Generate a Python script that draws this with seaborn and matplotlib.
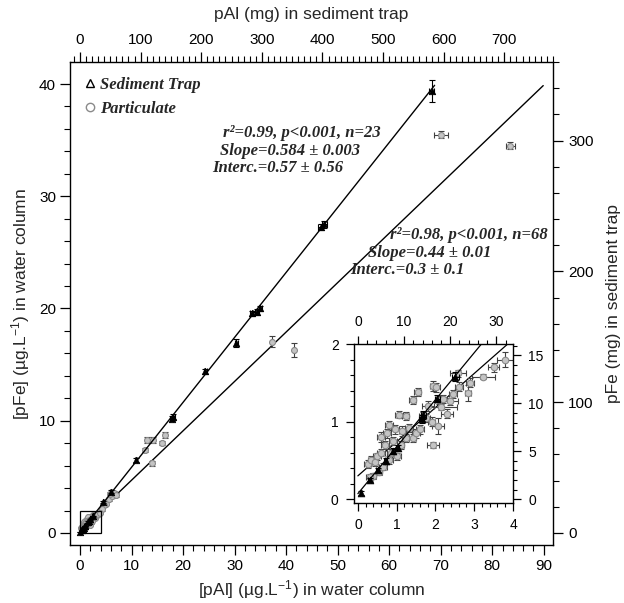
import numpy as np
import pandas as pd
import matplotlib
matplotlib.use("Agg")
import matplotlib.pyplot as plt
import seaborn as sns
from matplotlib.lines import Line2D
from matplotlib.patches import Rectangle
from matplotlib.ticker import MultipleLocator

# particulate samples, water column (ug/L)
part_al = [83.5, 70.1, 37.2, 41.6,
           12.95, 14.2, 15.9, 16.5, 12.6, 13.9,
           5.0, 5.6, 6.2, 6.6, 5.8, 4.6, 7.0,
           3.23, 2.58, 2.84, 2.45, 2.10, 2.20, 2.37, 2.15, 1.93, 2.02,
           2.06, 1.93, 1.67, 1.75, 1.41, 1.54, 1.23, 1.06, 1.32, 1.23, 1.41,
           0.25, 0.35, 0.45, 0.50, 0.60, 0.60, 0.70, 0.75, 0.80, 0.85,
           0.90, 0.95, 1.00, 0.55, 0.40, 0.65, 0.80, 1.10, 1.15, 0.30,
           1.50, 1.60, 1.80, 2.30, 1.90, 2.60, 2.90, 3.50, 4.2, 3.8]
part_fe = [34.5, 35.5, 17.05, 16.3,
           8.29, 8.29, 8.0, 8.73, 7.4, 6.2,
           2.6, 3.0, 3.3, 3.6, 3.5, 2.5, 3.4,
           1.58, 1.62, 1.37, 1.36, 1.28, 1.29, 1.26, 1.19, 1.46, 1.44,
           0.94, 0.70, 1.07, 1.05, 1.28, 1.38, 1.07, 1.09, 0.92, 0.79, 0.79,
           0.45, 0.50, 0.48, 0.55, 0.60, 0.80, 0.70, 0.85, 0.95, 0.60,
           0.75, 0.90, 0.55, 0.35, 0.30, 0.42, 0.50, 0.70, 0.88, 0.28,
           0.85, 0.90, 1.20, 1.10, 1.00, 1.45, 1.50, 1.70, 2.1, 1.8]
part_al_err = [0.9, 1.3, 0.2, 0.2,
               0.3, 0.3, 0.2, 0.2, 0.2, 0.3,
               0.2, 0.2, 0.2, 0.2, 0.2, 0.2, 0.2,
               0.30, 0.20, 0.08, 0.10, 0.10, 0.10, 0.20, 0.40, 0.08, 0.10,
               0.15, 0.15, 0.10, 0.10, 0.10, 0.10, 0.08, 0.10, 0.10, 0.10, 0.10,
               0.08, 0.08, 0.08, 0.10, 0.10, 0.10, 0.10, 0.10, 0.10, 0.10,
               0.10, 0.10, 0.12, 0.08, 0.08, 0.10, 0.10, 0.10, 0.10, 0.08,
               0.10, 0.10, 0.15, 0.15, 0.10, 0.10, 0.10, 0.15, 0.2, 0.2]
part_fe_err = [0.3, 0.3, 0.5, 0.65,
               0.3, 0.3, 0.2, 0.3, 0.2, 0.2,
               0.15, 0.15, 0.15, 0.15, 0.15, 0.15, 0.15,
               0.03, 0.05, 0.10, 0.05, 0.05, 0.05, 0.05, 0.04, 0.06, 0.06,
               0.10, 0.04, 0.05, 0.05, 0.05, 0.05, 0.05, 0.05, 0.05, 0.05, 0.05,
               0.05, 0.05, 0.05, 0.05, 0.05, 0.06, 0.05, 0.06, 0.06, 0.05,
               0.05, 0.06, 0.05, 0.04, 0.04, 0.05, 0.05, 0.05, 0.06, 0.04,
               0.06, 0.06, 0.06, 0.06, 0.06, 0.06, 0.06, 0.06, 0.1, 0.1]

# sediment trap samples (mg)
trap_al = [0.7, 2.6, 4.3, 6.0, 7.7, 8.6, 13.8, 14.2, 17.2, 21.1,
           38.3, 51.0, 92.6, 151.0, 154.0, 207.0, 258.0, 283.0, 291.5, 297.5,
           397.0, 403.0, 580.0]
trap_fe = [0.6, 2.0, 3.0, 4.0, 5.0, 5.3, 8.4, 8.8, 10.5, 12.8,
           24.0, 31.7, 55.8, 87.5, 89.0, 123.5, 145.0, 168.0, 169.0, 171.6,
           234.0, 236.0, 338.0]
trap_al_err = [0.3, 0.3, 0.3, 0.4, 0.4, 0.4, 0.5, 0.5, 0.5, 0.8,
               1.0, 1.5, 2.0, 2.5, 2.5, 2.5, 3.0, 3.0, 3.0, 3.0,
               4.0, 4.0, 4.0]
trap_fe_err = [0.2, 0.2, 0.2, 0.3, 0.3, 0.3, 0.4, 0.4, 0.4, 0.5,
               0.8, 1.0, 1.5, 2.0, 2.0, 2.0, 3.0, 2.0, 2.0, 2.0,
               2.5, 2.5, 8.5]

# regressions as printed on the figure
trap_fit = (0.584, 0.57)
part_fit = (0.44, 0.3)

part = pd.DataFrame({"al": part_al, "fe": part_fe, "al_err": part_al_err, "fe_err": part_fe_err})
trap = pd.DataFrame({"al": trap_al, "fe": trap_fe, "al_err": trap_al_err, "fe_err": trap_fe_err})

sns.set_theme(style="ticks")
plt.rcParams["font.family"] = ["Liberation Sans", "DejaVu Sans"]
plt.rcParams["mathtext.fontset"] = "custom"
plt.rcParams["mathtext.rm"] = "Liberation Sans"
plt.rcParams["mathtext.it"] = "Liberation Sans:italic"

W, H = 624, 603
fig = plt.figure(figsize=(W / 100, H / 100), dpi=100)


def frac(x0, y0, x1, y1):
    return [x0 / W, 1 - y1 / H, (x1 - x0) / W, (y1 - y0) / H]


PART_FACE = "#c4c4c4"
PART_EDGE = "#8a8a8a"
ERR_GREY = "#404040"


def style_axis(a, major, minor, fs, xminor, yminor, pad=3):
    a.xaxis.set_minor_locator(MultipleLocator(xminor))
    a.yaxis.set_minor_locator(MultipleLocator(yminor))
    a.tick_params(which="major", direction="out", length=major, width=0.9,
                  labelsize=fs, color="black", labelcolor="black", pad=pad)
    a.tick_params(which="minor", direction="out", length=minor, width=0.8, color="black")


def draw_particulate(a, ms, cap):
    a.errorbar(part["al"], part["fe"], xerr=part["al_err"], yerr=part["fe_err"],
               fmt="none", ecolor=ERR_GREY, elinewidth=0.8, capsize=cap, capthick=0.8, zorder=2)
    sns.scatterplot(data=part, x="al", y="fe", ax=a, s=ms, marker="o",
                    color=PART_FACE, edgecolor=PART_EDGE, linewidth=0.8, zorder=3, legend=False)


def draw_trap(a, ms, cap):
    a.errorbar(trap["al"], trap["fe"], xerr=trap["al_err"], yerr=trap["fe_err"],
               fmt="none", ecolor="black", elinewidth=0.8, capsize=cap, capthick=0.8, zorder=4)
    sns.scatterplot(data=trap, x="al", y="fe", ax=a, s=ms, marker="^",
                    color="black", edgecolor="black", linewidth=0.5, zorder=5, legend=False)


# ---------------- main panel ----------------
main_rect = frac(70, 62, 553, 545)
ax = fig.add_axes(main_rect)
ax_mg = fig.add_axes(main_rect, frameon=False)
ax_mg.patch.set_alpha(0)

xlim = (-1.94, 91.8)
ylim = (-1.07, 41.96)
fx, fy = 8.5, 8.58
ax.set_xlim(*xlim)
ax.set_ylim(*ylim)
ax_mg.set_xlim(xlim[0] * fx, xlim[1] * fx)
ax_mg.set_ylim(ylim[0] * fy, ylim[1] * fy)

draw_particulate(ax, 18, 2)
xl = np.array([0, 89.9])
ax.plot(xl, part_fit[0] * xl + part_fit[1], color="black", lw=1.0, zorder=1)

draw_trap(ax_mg, 22, 2)
xm = np.array([0, 585])
ax_mg.plot(xm, trap_fit[0] * xm + trap_fit[1], color="black", lw=1.0, zorder=1)

ax.add_patch(Rectangle((0, 0), 4, 2, fill=False, edgecolor="black", lw=0.9, zorder=6))

ax_mg.xaxis.tick_top()
ax_mg.yaxis.tick_right()
ax_mg.xaxis.set_label_position("top")
ax_mg.yaxis.set_label_position("right")
style_axis(ax, 7, 4, 11, 2, 2)
style_axis(ax_mg, 7, 4, 11, 10, 20, pad=4)
ax.set_xticks(list(range(0, 100, 10)))
ax.set_yticks(list(range(0, 50, 10)))
ax_mg.set_xticks(list(range(0, 800, 100)))
ax_mg.set_yticks([0, 100, 200, 300])

for s in ax.spines.values():
    s.set_visible(True)
    s.set_linewidth(1.0)
    s.set_color("black")

ax.set_xlabel("[pAl] (µg.L$^{-1}$) in water column", fontsize=12.5, labelpad=4)
ax.set_ylabel("[pFe] (µg.L$^{-1}$) in water column", fontsize=12.5, labelpad=5)
ax_mg.set_xlabel("pAl (mg) in sediment trap", fontsize=12.5, labelpad=10)
ax_mg.set_ylabel("pFe (mg) in sediment trap", fontsize=12.5, labelpad=9)

# legend
handles = [Line2D([], [], marker="^", ls="none", mfc="none", mec="black", ms=6, mew=1.0),
           Line2D([], [], marker="o", ls="none", mfc="none", mec=PART_EDGE, ms=6, mew=1.0)]
ax.legend(handles, ["Sediment Trap", "Particulate"], loc="upper left",
          bbox_to_anchor=(-0.005, 1.0), frameon=False, handletextpad=0.15,
          labelspacing=0.5, handlelength=0.9,
          prop={"family": "Liberation Serif", "style": "italic", "weight": "bold", "size": 12})

ann = {"family": "Liberation Serif", "style": "italic", "weight": "bold", "size": 12, "va": "center"}
ax.text(27.8, 35.65, "r²=0.99, p<0.001, n=23", **ann)
ax.text(27.2, 34.05, "Slope=0.584 ± 0.003", **ann)
ax.text(25.6, 32.5, "Interc.=0.57 ± 0.56", **ann)
ax.text(60.2, 26.56, "r²=0.98, p<0.001, n=68", **ann)
ax.text(55.9, 24.96, "Slope=0.44 ± 0.01", **ann)
ax.text(52.4, 23.44, "Interc.=0.3 ± 0.1", **ann)

# ---------------- inset ----------------
in_rect = frac(354, 344, 513, 503)
axi = fig.add_axes(in_rect)
axi_mg = fig.add_axes(in_rect, frameon=False)
axi_mg.patch.set_alpha(0)

ixlim = (-0.1, 4.0)
iylim = (-0.05, 2.0)
ifx, ify = 8.4, 8.1
axi.set_xlim(*ixlim)
axi.set_ylim(*iylim)
axi_mg.set_xlim(ixlim[0] * ifx, ixlim[1] * ifx)
axi_mg.set_ylim(iylim[0] * ify, iylim[1] * ify)

draw_particulate(axi, 22, 2.5)
xi = np.array([0, 4.0])
axi.plot(xi, part_fit[0] * xi + part_fit[1], color="black", lw=0.9, zorder=1)
draw_trap(axi_mg, 24, 2.5)
xim = np.array([0, 35])
axi_mg.plot(xim, trap_fit[0] * xim + trap_fit[1], color="black", lw=0.9, zorder=1)

axi_mg.xaxis.tick_top()
axi_mg.yaxis.tick_right()
style_axis(axi, 6, 3, 10, 0.2, 0.2, pad=5)
style_axis(axi_mg, 6, 3, 10, 2, 1, pad=5)
axi.set_xticks([0, 1, 2, 3, 4])
axi.set_yticks([0, 1, 2])
axi_mg.set_xticks([0, 10, 20, 30])
axi_mg.set_yticks([0, 5, 10, 15])
for a in (axi, axi_mg):
    a.set_xlabel("")
    a.set_ylabel("")
axi.set_facecolor("white")
for s in axi.spines.values():
    s.set_visible(True)
    s.set_linewidth(1.0)
    s.set_color("black")

fig.savefig("out.png", dpi=100)
